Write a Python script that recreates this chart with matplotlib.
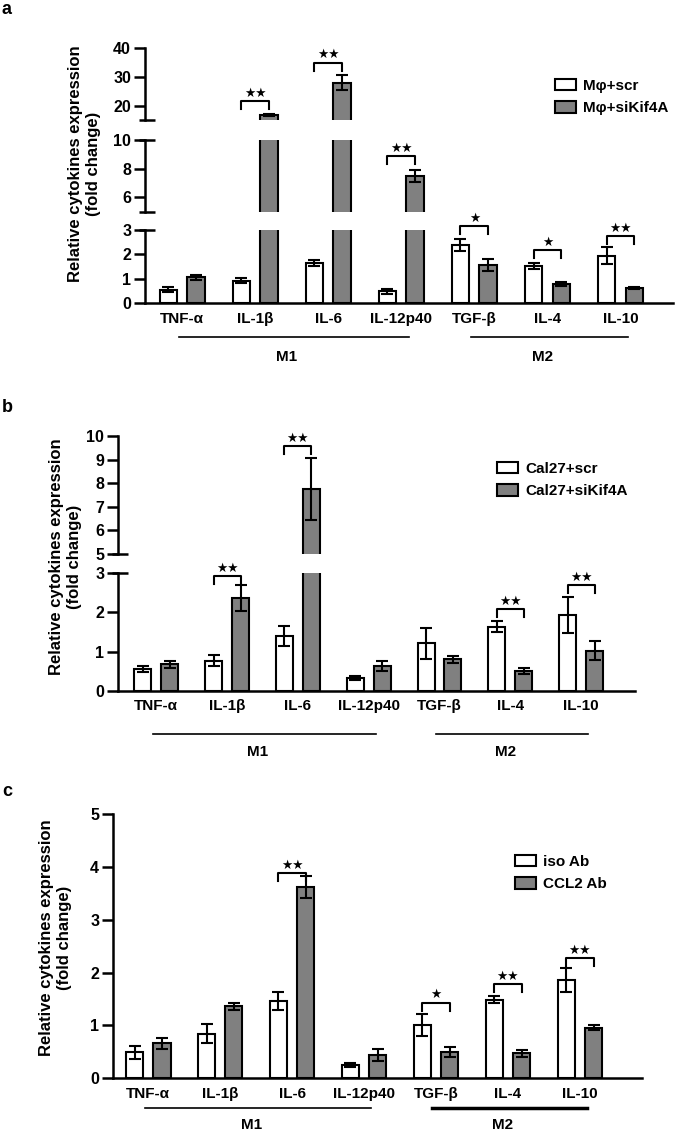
import numpy as np
import matplotlib
matplotlib.use('Agg')
from matplotlib import pyplot as plt
from matplotlib import transforms
from matplotlib.patches import Patch

plt.rcParams['font.family'] = ['Liberation Sans', 'DejaVu Sans']
plt.rcParams['font.weight'] = 'bold'

W, H = 675, 1133

cytokines = ['TNF-α', 'IL-1β', 'IL-6', 'IL-12p40', 'TGF-β', 'IL-4', 'IL-10']
groups = [('M1', 0, 3), ('M2', 4, 6)]

# a: macrophages scr / siKif4A
a_names = ['Mφ+scr', 'Mφ+siKif4A']
a_ctrl = [0.55, 0.93, 1.64, 0.50, 2.39, 1.54, 1.95]
a_ctrl_err = [0.10, 0.10, 0.12, 0.10, 0.25, 0.12, 0.35]
a_treat = [1.07, 16.8, 28.0, 7.5, 1.57, 0.79, 0.63]
a_treat_err = [0.10, 0.4, 2.7, 0.4, 0.23, 0.08, 0.05]
a_sig = [(1, 21.6, '★★'), (2, 35.0, '★★'), (3, 8.88, '★★'),
         (4, 3.16, '★'), (5, 2.18, '★'), (6, 2.76, '★★')]

# b: Cal27 scr / siKif4A
b_names = ['Cal27+scr', 'Cal27+siKif4A']
b_ctrl = [0.55, 0.77, 1.40, 0.33, 1.21, 1.64, 1.94]
b_ctrl_err = [0.08, 0.14, 0.25, 0.05, 0.40, 0.15, 0.46]
b_treat = [0.67, 2.36, 7.75, 0.63, 0.80, 0.50, 1.02]
b_treat_err = [0.08, 0.33, 1.3, 0.12, 0.08, 0.07, 0.24]
b_sig = [(1, 2.93, '★★'), (2, 9.58, '★★'), (5, 2.09, '★★'), (6, 2.70, '★★')]

# c: iso Ab / CCL2 Ab
c_names = ['iso Ab', 'CCL2 Ab']
c_ctrl = [0.49, 0.84, 1.47, 0.25, 1.01, 1.49, 1.86]
c_ctrl_err = [0.12, 0.18, 0.17, 0.04, 0.21, 0.07, 0.22]
c_treat = [0.66, 1.36, 3.62, 0.44, 0.50, 0.47, 0.96]
c_treat_err = [0.10, 0.07, 0.21, 0.11, 0.09, 0.07, 0.05]
c_sig = [(2, 3.88, '★★'), (4, 1.43, '★'), (5, 1.78, '★★'), (6, 2.27, '★★')]

GRAY = '#808080'
LW = 1.5
WIDTH = 0.24
OFF = 0.19
FS = 11

fig = plt.figure(figsize=(W / 100, H / 100), dpi=100)


def fbox(left, right, top, bottom):
    # pixel box -> figure fraction
    return [left / W, 1 - bottom / H, (right - left) / W, (bottom - top) / H]


def panel(segs, left, right, xlim, ctrl, ctrl_err, treat, treat_err, sig,
          names, leg_xy, ylab_xy, lines_y, mlab_y, m2_lw=1.2):
    x = np.arange(len(cytokines))
    axes = []
    for k, (lo, hi, top, bottom, ticks) in enumerate(segs):
        ax = fig.add_axes(fbox(left, right, top, bottom))
        ax.bar(x - OFF, ctrl, WIDTH, color='white', edgecolor='black', linewidth=LW, zorder=2)
        ax.bar(x + OFF, treat, WIDTH, color=GRAY, edgecolor='black', linewidth=LW, zorder=2)
        ax.errorbar(x - OFF, ctrl, yerr=ctrl_err, fmt='none', ecolor='black',
                    elinewidth=LW, capsize=4, capthick=LW, zorder=3)
        ax.errorbar(x + OFF, treat, yerr=treat_err, fmt='none', ecolor='black',
                    elinewidth=LW, capsize=4, capthick=LW, zorder=3)
        ax.set_xlim(xlim)
        ax.set_ylim(lo, hi)
        ax.set_yticks(ticks)
        ax.tick_params(axis='y', length=8, width=1.8, labelsize=11.5, pad=2)
        for s in ['top', 'right']:
            ax.spines[s].set_visible(False)
        ax.spines['left'].set_linewidth(1.8)
        if k == 0:
            ax.spines['bottom'].set_linewidth(1.8)
            ax.set_xticks(x)
            ax.set_xticklabels(cytokines, fontsize=FS)
            ax.tick_params(axis='x', length=0, pad=6)
        else:
            ax.spines['bottom'].set_visible(False)
            ax.set_xticks([])
        # break marks
        wpx = right - left
        tr = transforms.blended_transform_factory(ax.transAxes, ax.transData)
        ends = []
        if k > 0:
            ends.append(lo)
        if k < len(segs) - 1:
            ends.append(hi)
        for e in ends:
            ax.plot([-6 / wpx, 10 / wpx], [e, e], color='black', lw=1.8,
                    transform=tr, clip_on=False, solid_capstyle='butt')
        axes.append(ax)

    # significance brackets
    for i, y, s in sig:
        k = max(j for j, sg in enumerate(segs) if sg[0] <= y)
        lo, hi, top, bottom, _ = segs[k]
        ax = axes[k]
        d = 8 * (hi - lo) / (bottom - top)
        ax.plot([i - OFF, i - OFF, i + OFF, i + OFF], [y - d, y, y, y - d],
                color='black', lw=LW, clip_on=False, zorder=4)
        ax.annotate(s, (i, y), xytext=(0, 1), textcoords='offset points',
                    ha='center', va='bottom', fontsize=9,
                    family=['DejaVu Sans'], annotation_clip=False)

    # M1 / M2 group lines under the axis
    ax = axes[0]
    trf = transforms.blended_transform_factory(ax.transData, fig.transFigure)
    for name, g0, g1 in groups:
        lw = m2_lw if name == 'M2' else 1.2
        ax.plot([g0 - 0.05, g1 + 0.1], [1 - lines_y / H] * 2, color='black', lw=lw,
                transform=trf, clip_on=False)
        ax.text((g0 + g1) / 2 - 0.07, 1 - mlab_y / H, name, transform=trf,
                ha='center', va='center', fontsize=FS)

    handles = [Patch(facecolor='white', edgecolor='black', linewidth=LW),
               Patch(facecolor=GRAY, edgecolor='black', linewidth=LW)]
    fig.legend(handles, names, loc='upper left',
               bbox_to_anchor=(leg_xy[0] / W, 1 - leg_xy[1] / H),
               frameon=False, fontsize=FS, handlelength=1.4, handleheight=0.75,
               handletextpad=0.45, labelspacing=0.55, borderpad=0, borderaxespad=0)

    fig.text(ylab_xy[0] / W, 1 - ylab_xy[1] / H,
             'Relative cytokines expression\n(fold change)', rotation=90,
             ha='center', va='center', multialignment='center', fontsize=12,
             linespacing=1.25)


# panel a, three segments
panel([(0, 3, 230, 303.3, [0, 1, 2, 3]),
       (5, 10, 140, 211.7, [6, 8, 10]),
       (15, 40, 48.3, 120, [20, 30, 40])],
      145, 673, (-0.51, 6.72), a_ctrl, a_ctrl_err, a_treat, a_treat_err, a_sig,
      a_names, (555, 79), (85, 164), 336.7, 357)

# panel b, two segments
panel([(0, 3, 573.3, 690.7, [0, 1, 2, 3]),
       (5, 10, 436, 554, [5, 6, 7, 8, 9, 10])],
      118, 635, (-0.54, 6.76), b_ctrl, b_ctrl_err, b_treat, b_treat_err, b_sig,
      b_names, (497, 462), (66, 557), 734, 752)

# panel c
panel([(0, 5, 814, 1078.3, [0, 1, 2, 3, 4, 5])],
      113, 641.7, (-0.49, 6.86), c_ctrl, c_ctrl_err, c_treat, c_treat_err, c_sig,
      c_names, (515, 855), (56, 938), 1108, 1125, m2_lw=2.5)

for lab, yy in [('a', 9), ('b', 408), ('c', 791)]:
    fig.text(7 / W, 1 - yy / H, lab, ha='center', va='center', fontsize=13)

fig.savefig('out.png', dpi=100)
